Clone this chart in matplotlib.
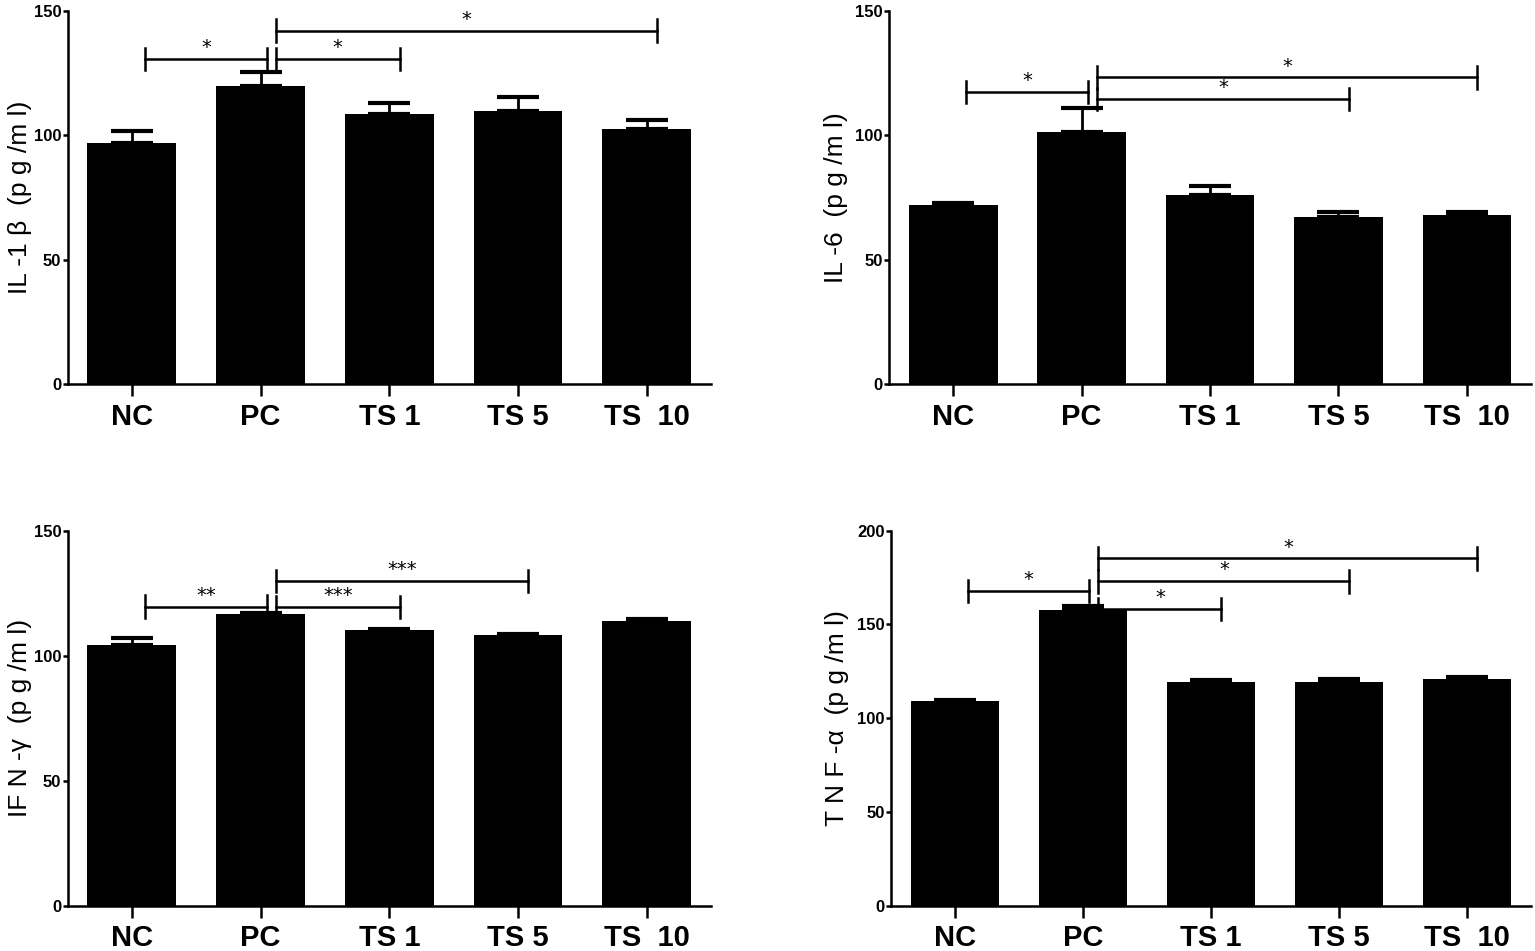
import matplotlib.pyplot as plt
import numpy as np

plt.rcParams['font.family'] = ['Liberation Sans Narrow', 'Liberation Sans', 'DejaVu Sans']

groups = ['NC', 'PC', 'TS 1', 'TS 5', 'TS  10']

il1b = [97.0, 119.8, 108.4, 109.8, 102.4]
il1b_err = [4.5, 5.4, 4.4, 5.7, 3.5]
il6 = [72.0, 101.2, 76.0, 67.3, 68.0]
il6_err = [0.6, 9.9, 3.6, 2.0, 1.3]
ifng = [104.1, 116.5, 110.1, 108.2, 113.8]
ifng_err = [3.0, 0.7, 0.6, 0.5, 0.9]
tnfa = [109.2, 157.6, 119.3, 119.3, 120.9]
tnfa_err = [0.3, 2.2, 0.9, 1.8, 1.1]

# significance brackets: (from group, to group, height, stars)
il1b_sig = [(0, 1, 130.5, '*'), (1, 2, 130.5, '*'), (1, 4, 142.0, '*')]
il6_sig = [(0, 1, 117.3, '*'), (1, 3, 114.6, '*'), (1, 4, 123.2, '*')]
ifng_sig = [(0, 1, 119.6, '**'), (1, 2, 119.4, '***'), (1, 3, 129.9, '***')]
tnfa_sig = [(0, 1, 167.8, '*'), (1, 2, 158.2, '*'), (1, 3, 173.0, '*'), (1, 4, 185.2, '*')]

panels = [
    ([0.044, 0.5962, 0.4192, 0.3925], il1b, il1b_err, il1b_sig, 150, 'IL -1 β  (p g /m l)', -0.056),
    ([0.5792, 0.5962, 0.4182, 0.3925], il6, il6_err, il6_sig, 150, 'IL -6  (p g /m l)', -0.064),
    ([0.044, 0.0478, 0.4192, 0.3942], ifng, ifng_err, ifng_sig, 150, 'IF N -γ  (p g /m l)', -0.056),
    ([0.5805, 0.0478, 0.4170, 0.3942], tnfa, tnfa_err, tnfa_sig, 200, 'T N F -α  (p g /m l)', -0.066),
]

fig = plt.figure(figsize=(15.35, 9.51), dpi=100)
x = np.arange(len(groups))

for rect, vals, errs, sig, ymax, ylab, labx in panels:
    ax = fig.add_axes(rect)
    ax.bar(x, vals, width=0.69, color='black', zorder=2)
    ax.errorbar(x, vals, yerr=[np.zeros(len(vals)), errs], fmt='none', ecolor='black',
                elinewidth=2, capsize=15, capthick=3, zorder=1)
    ax.set_xlim(-0.5, 4.5)
    ax.set_ylim(0, ymax)
    ax.set_yticks(np.arange(0, ymax + 1, 50))
    ax.set_xticks(x)
    ax.set_xticklabels(groups, fontsize=21, fontweight='bold')
    for lbl in ax.get_yticklabels():
        lbl.set_fontsize(12)
        lbl.set_fontweight('bold')
    for s in ['top', 'right']:
        ax.spines[s].set_visible(False)
    for s in ['left', 'bottom']:
        ax.spines[s].set_linewidth(1.8)
    ax.tick_params(axis='x', length=8.5, width=1.8, pad=5)
    ax.tick_params(axis='y', length=3.5, width=1.8, pad=1)
    ax.set_ylabel(ylab, fontsize=19, family='Liberation Sans')
    ax.yaxis.set_label_coords(labx, 0.5)

    h = 0.03 * ymax
    for i, j, y, st in sig:
        x1 = i + (0.1 if i == 0 else 0.12)
        x2 = j + (0.05 if j == 1 else 0.08)
        ax.plot([x1, x2], [y, y], color='black', lw=1.8, clip_on=False, zorder=3)
        ax.plot([x1, x1], [y - h, y + h], color='black', lw=1.8, clip_on=False, zorder=3)
        ax.plot([x2, x2], [y - h, y + h], color='black', lw=1.8, clip_on=False, zorder=3)
        ax.text((x1 + x2) / 2, y + 0.005 * ymax, st, ha='center', va='bottom',
                fontsize=14, family='DejaVu Sans', zorder=3)

fig.savefig('out.png', dpi=100)
